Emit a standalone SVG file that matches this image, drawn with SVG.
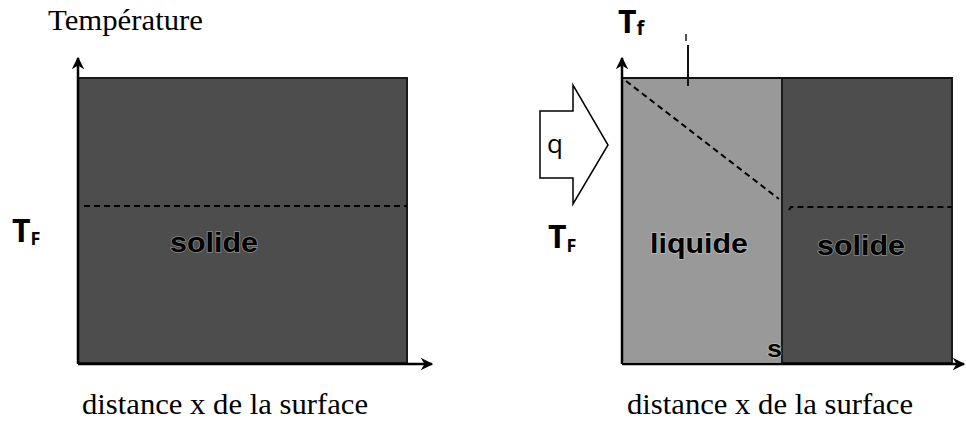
<svg xmlns="http://www.w3.org/2000/svg" width="966" height="423" viewBox="0 0 966 423">
<style>
.serif{font-family:"Liberation Serif","Times New Roman",serif;fill:#000}
.lbl{font-family:"Liberation Sans",Arial,sans-serif;font-weight:bold;fill:#000}
.sym{font-family:"Open Sans","Liberation Sans",sans-serif;font-weight:bold;fill:#000}
.dash{stroke:#000;stroke-width:2;stroke-dasharray:6,4;fill:none}
.axis{stroke:#000;stroke-width:2.5;fill:none}
.halo{paint-order:stroke;stroke:#fff;stroke-opacity:0.35;stroke-width:1.5}
</style>
<defs>
<marker id="ah" viewBox="0 0 10 10" refX="9" refY="5" markerWidth="5" markerHeight="5" orient="auto-start-reverse" markerUnits="strokeWidth">
<path d="M0,0 L10,5 L0,10 L3,5 Z" fill="#000"/>
</marker>
</defs>
<rect width="966" height="423" fill="#fff"/>

<g id="left-diagram">
<rect x="78" y="78" width="329" height="285" fill="#4d4d4d" stroke="#1a1a1a" stroke-width="2"/>
<line class="dash" x1="84" y1="206" x2="407" y2="206"/>
<text class="lbl halo" x="170" y="252" font-size="27" textLength="88" lengthAdjust="spacingAndGlyphs">solide</text>
</g>

<g id="left-labels">
<text class="serif" x="48" y="30" font-size="29" textLength="155" lengthAdjust="spacingAndGlyphs">Température</text>
<text class="sym" x="12" y="242" font-size="32">T<tspan font-size="18" dy="3">F</tspan></text>
<text class="serif" x="82" y="414" font-size="29" textLength="286" lengthAdjust="spacingAndGlyphs">distance x de la surface</text>
</g>

<g id="right-diagram">
<rect x="622" y="78" width="160" height="285" fill="#999999" stroke="#cfcfcf" stroke-width="1.5"/>
<rect x="782" y="78" width="170" height="285" fill="#4d4d4d" stroke="#1a1a1a" stroke-width="2"/>
<line x1="622" y1="78" x2="952" y2="78" stroke="#111" stroke-width="2"/>
<line class="dash" x1="626" y1="81" x2="779" y2="199"/>
<path class="dash" d="M789,210 L791,207 L952,207"/>
<line x1="688" y1="45" x2="688" y2="86" stroke="#111" stroke-width="2"/>
<line x1="686" y1="34" x2="686" y2="41" stroke="#555" stroke-width="2"/>
<text class="lbl halo" x="650" y="253" font-size="27" textLength="98" lengthAdjust="spacingAndGlyphs">liquide</text>
<text class="lbl halo" x="817" y="255" font-size="27" textLength="88" lengthAdjust="spacingAndGlyphs">solide</text>
<text class="lbl halo" x="767" y="357" font-size="24" textLength="15" lengthAdjust="spacingAndGlyphs">s</text>
</g>

<g id="heat-flux-q">
<polygon points="540,111 573,111 573,85 608,145 573,204 573,178 540,178" fill="#fff" stroke="#000" stroke-width="1.5"/>
<text class="sym" x="547" y="153" font-size="26" style="font-weight:normal">q</text>
</g>

<g id="right-labels">
<text class="sym" x="618" y="33" font-size="32">T<tspan font-size="20" dy="2">f</tspan></text>
<text class="sym" x="548" y="248" font-size="32">T<tspan font-size="18" dy="4">F</tspan></text>
<text class="serif" x="627" y="414" font-size="29" textLength="286" lengthAdjust="spacingAndGlyphs">distance x de la surface</text>
</g>

<g id="connectors">
<line class="axis" x1="78" y1="364" x2="78" y2="58" marker-end="url(#ah)"/>
<line class="axis" x1="78" y1="364" x2="432" y2="364" marker-end="url(#ah)"/>
<line class="axis" x1="622" y1="364" x2="622" y2="58" marker-end="url(#ah)"/>
<line class="axis" x1="622" y1="364" x2="964" y2="364" marker-end="url(#ah)"/>
</g>
</svg>
